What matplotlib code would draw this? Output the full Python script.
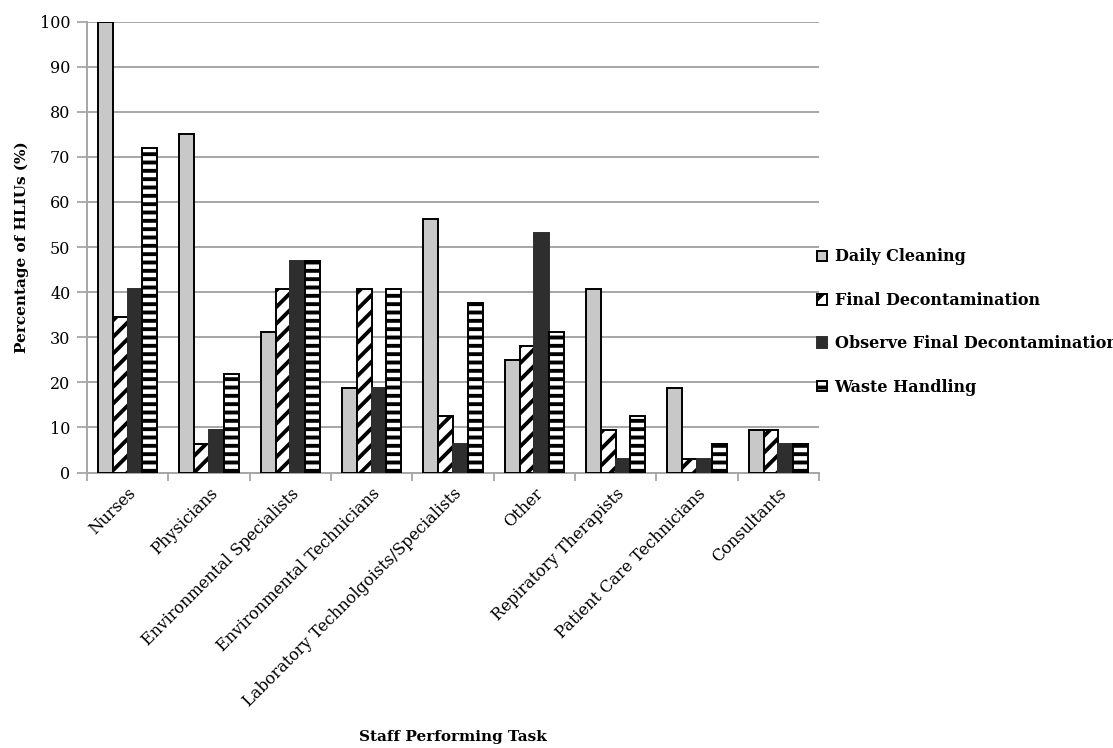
import matplotlib
matplotlib.use("Agg")
import matplotlib.pyplot as plt
import numpy as np

categories = [
    "Nurses",
    "Physicians",
    "Environmental Specialists",
    "Environmental Technicians",
    "Laboratory Technolgoists/Specialists",
    "Other",
    "Repiratory Therapists",
    "Patient Care Technicians",
    "Consultants",
]
series_names = [
    "Daily Cleaning",
    "Final Decontamination",
    "Observe Final Decontamination",
    "Waste Handling",
]
daily_cleaning = [100, 75, 31.25, 18.75, 56.25, 25, 40.6, 18.75, 9.4]
final_decontamination = [34.4, 6.25, 40.6, 40.6, 12.5, 28.1, 9.4, 3.1, 9.4]
observe_final_decontamination = [40.6, 9.4, 46.9, 18.75, 6.25, 53.1, 3.1, 3.1, 6.25]
waste_handling = [71.9, 21.9, 46.9, 40.6, 37.5, 31.25, 12.5, 6.25, 6.25]
y_ticks = [0, 10, 20, 30, 40, 50, 60, 70, 80, 90, 100]

plt.rcParams["hatch.linewidth"] = 2.8
plt.rcParams["hatch.color"] = "black"
plt.rcParams["font.family"] = ["DejaVu Serif"]

fig = plt.figure(figsize=(11.13, 7.48), dpi=100)
ax = fig.add_axes([87 / 1113, 1 - 472.5 / 748, (819 - 87) / 1113, (472.5 - 21.5) / 748])

series = [daily_cleaning, final_decontamination, observe_final_decontamination, waste_handling]
styles = [
    dict(facecolor="#c8c8c8", edgecolor="black", hatch=None),
    dict(facecolor="white", edgecolor="black", hatch="//"),
    dict(facecolor="#2e2e2e", edgecolor="#2e2e2e", hatch=None),
    dict(facecolor="white", edgecolor="black", hatch="--"),
]
x = np.arange(len(categories))
w = 0.182
handles = []
for k, (vals, st) in enumerate(zip(series, styles)):
    bars = ax.bar(x + (k - 1.5) * w, vals, width=w, linewidth=1.4, zorder=3, **st)
    handles.append(bars)

ax.set_xlim(-0.5, len(categories) - 0.5)
ax.set_ylim(0, 100)
ax.set_yticks(y_ticks)
ax.set_yticklabels([str(t) for t in y_ticks], fontsize=11.5)
ax.yaxis.grid(True, color="#a6a6a6", linewidth=1.4, zorder=0)
ax.set_axisbelow(True)

ax.set_xticks(x)
ax.set_xticklabels(categories, rotation=45, ha="right", rotation_mode="anchor", fontsize=11.6)
ax.set_xticks(np.arange(len(categories) + 1) - 0.5, minor=True)
ax.tick_params(axis="x", which="major", length=0, pad=9)
ax.tick_params(axis="x", which="minor", length=6, color="#a6a6a6", width=1.3)
ax.tick_params(axis="y", length=7, color="#a6a6a6", width=1.3, pad=5)

for s in ["top", "right"]:
    ax.spines[s].set_visible(False)
for s in ["left", "bottom"]:
    ax.spines[s].set_color("#a6a6a6")
    ax.spines[s].set_linewidth(1.4)

ax.set_ylabel("Percentage of HLIUs (%)", fontsize=11, fontweight="bold", labelpad=8)
fig.text((87 + 819) / 2 / 1113, 1 - 737 / 748, "Staff Performing Task",
         fontsize=11, fontweight="bold", ha="center", va="center")

leg = fig.legend(handles, series_names, loc="center left",
                 bbox_to_anchor=(817 / 1113, 1 - 322 / 748), frameon=False,
                 prop={"weight": "bold", "size": 11.5}, handlelength=0.65,
                 handleheight=0.65, handletextpad=0.45, labelspacing=1.65,
                 borderpad=0, borderaxespad=0)

fig.savefig("out.png", dpi=100)
